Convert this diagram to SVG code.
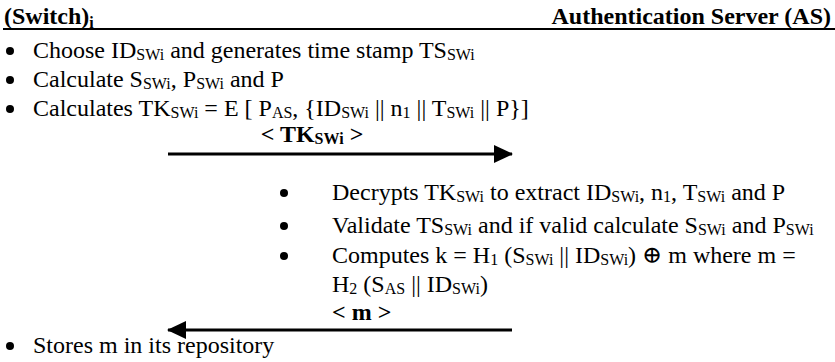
<svg xmlns="http://www.w3.org/2000/svg" width="835" height="362" viewBox="0 0 835 362" font-family="'Liberation Serif', 'DejaVu Serif', serif">
<style>
text{font-family:'Liberation Serif','DejaVu Serif',serif;font-size:24px;fill:#000}
.b{font-weight:bold}
.s{font-size:16px}
.line{stroke:#000;stroke-width:3;fill:none}
.dot{fill:#000}
</style>
<defs>
<marker id="ah" markerWidth="19" markerHeight="18" refX="18" refY="9" orient="auto" markerUnits="userSpaceOnUse" viewBox="0 0 19 18"><path d="M0,0 L19,9 L0,18 z" fill="#000"/></marker>
</defs>
<rect width="835" height="362" fill="#fff"/>
<g id="header">
<text x="4" y="24" class="b">(Switch)<tspan class="s" dy="4">i</tspan></text>
<text x="831" y="24" class="b" text-anchor="end">Authentication Server (AS)</text>
<line x1="3" y1="29" x2="835" y2="29" stroke="#000" stroke-width="2"/>
</g>
<g id="switch-steps">
<circle class="dot" cx="10" cy="51" r="4"/>
<text x="33" y="58">Choose ID<tspan class="s" dy="2">SWi</tspan><tspan dy="-2"> and generates time stamp TS</tspan><tspan class="s" dy="2">SWi</tspan></text>
<circle class="dot" cx="10" cy="80" r="4"/>
<text x="33" y="87">Calculate S<tspan class="s" dy="2">SWi</tspan><tspan dy="-2">, P</tspan><tspan class="s" dy="2">SWi</tspan><tspan dy="-2"> and P</tspan></text>
<circle class="dot" cx="10" cy="109" r="4"/>
<text x="33" y="116">Calculates TK<tspan class="s" dy="2">SWi</tspan><tspan dy="-2"> = E [ P</tspan><tspan class="s" dy="2">AS</tspan><tspan dy="-2">, {ID</tspan><tspan class="s" dy="2">SWi</tspan><tspan dy="-2"> || n</tspan><tspan class="s" dy="2">1</tspan><tspan dy="-2"> || T</tspan><tspan class="s" dy="2">SWi</tspan><tspan dy="-2"> || P}]</tspan></text>
</g>
<g id="msg1">
<text x="312" y="142" class="b" text-anchor="middle">&lt; TK<tspan class="s" dy="2">SWi</tspan><tspan dy="-2"> &gt;</tspan></text>
</g>
<g id="as-steps">
<circle class="dot" cx="284" cy="193" r="4"/>
<text x="332" y="200">Decrypts TK<tspan class="s" dy="2">SWi</tspan><tspan dy="-2"> to extract ID</tspan><tspan class="s" dy="2">SWi</tspan><tspan dy="-2">, n</tspan><tspan class="s" dy="2">1</tspan><tspan dy="-2">, T</tspan><tspan class="s" dy="2">SWi</tspan><tspan dy="-2"> and P</tspan></text>
<circle class="dot" cx="284" cy="226" r="4"/>
<text x="332" y="233">Validate TS<tspan class="s" dy="2">SWi</tspan><tspan dy="-2"> and if valid calculate S</tspan><tspan class="s" dy="2">SWi</tspan><tspan dy="-2"> and P</tspan><tspan class="s" dy="2">SWi</tspan></text>
<circle class="dot" cx="284" cy="256" r="4"/>
<text x="332" y="263">Computes k = H<tspan class="s" dy="2">1</tspan><tspan dy="-2"> (S</tspan><tspan class="s" dy="2">SWi</tspan><tspan dy="-2"> || ID</tspan><tspan class="s" dy="2">SWi</tspan><tspan dy="-2">) ⊕ m where m =</tspan></text>
<text x="332" y="292">H<tspan class="s" dy="2">2</tspan><tspan dy="-2"> (S</tspan><tspan class="s" dy="2">AS</tspan><tspan dy="-2"> || ID</tspan><tspan class="s" dy="2">SWi</tspan><tspan dy="-2">)</tspan></text>
<text x="332" y="320" class="b">&lt; m &gt;</text>
</g>
<g id="connectors">
<line class="line" x1="168" y1="154" x2="512" y2="154" marker-end="url(#ah)"/>
<line class="line" x1="512" y1="330" x2="168" y2="330" marker-end="url(#ah)"/>
</g>
<g id="switch-final">
<circle class="dot" cx="10" cy="346" r="4"/>
<text x="33" y="353">Stores m in its repository</text>
</g>
</svg>
